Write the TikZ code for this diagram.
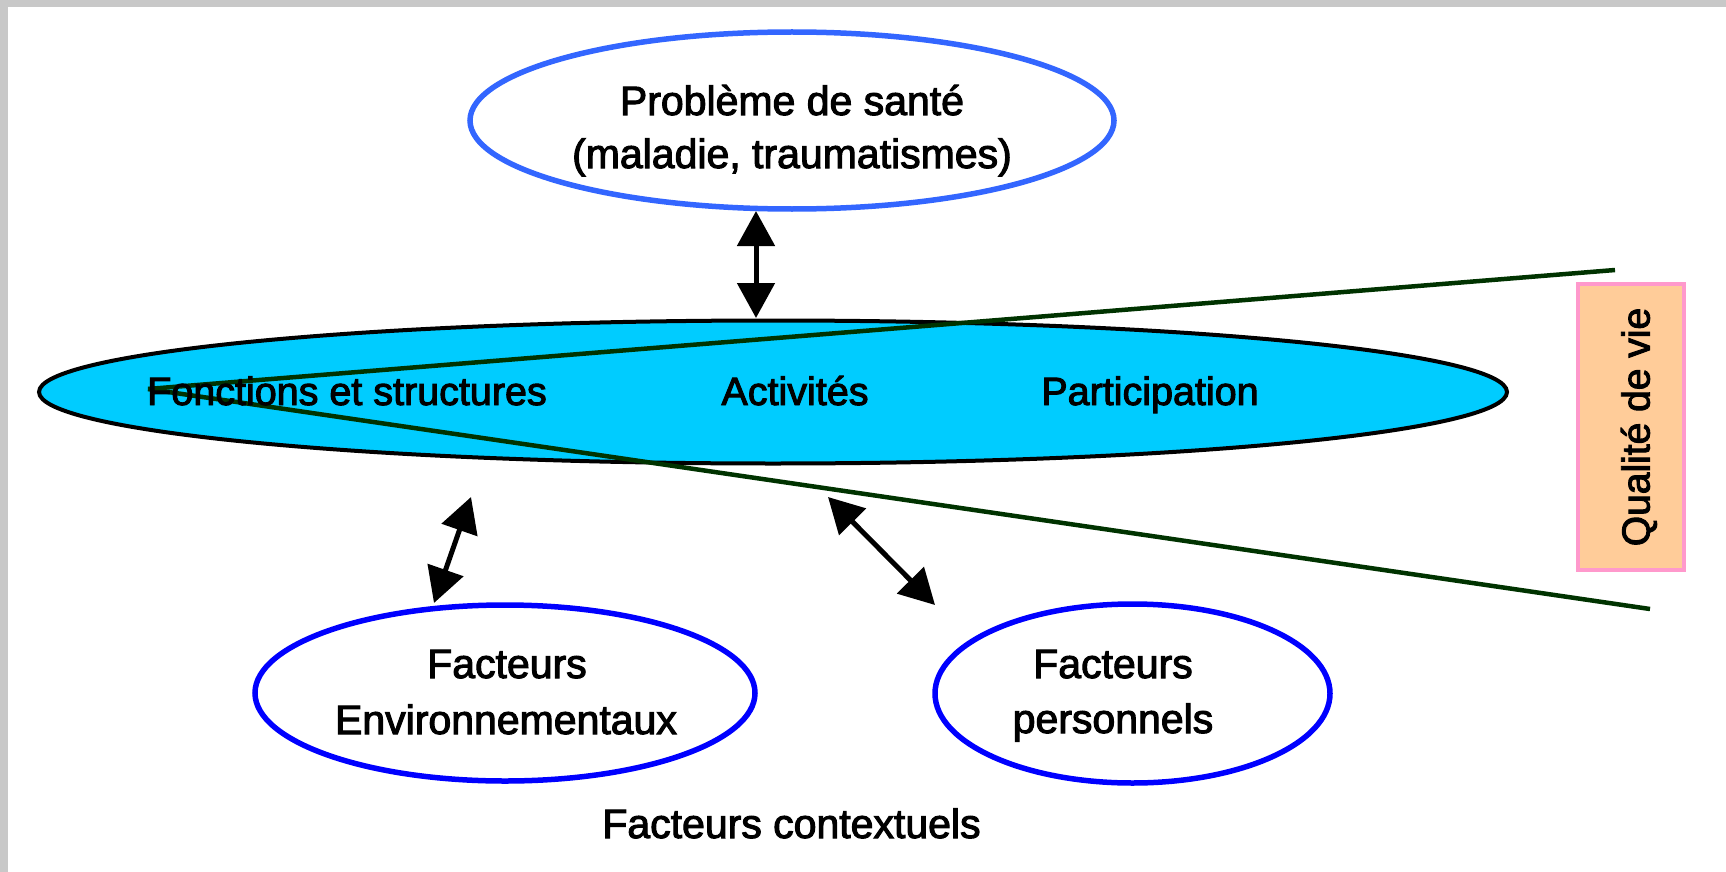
\documentclass[tikz,border=0pt]{standalone}
\usepackage{fontspec}
\setmainfont{Liberation Sans}
\newfontfamily\heavy{Liberation Sans}[FakeBold=2.5]
\usetikzlibrary{shapes.geometric,arrows.meta}
\definecolor{cyanfill}{RGB}{0,204,255}
\definecolor{topblue}{RGB}{51,102,255}
\definecolor{pureblue}{RGB}{0,0,255}
\definecolor{darkgreen}{RGB}{0,51,0}
\definecolor{peach}{RGB}{255,204,153}
\definecolor{pinkborder}{RGB}{255,153,204}
\definecolor{marble}{RGB}{200,200,200}
\begin{document}
\begin{tikzpicture}[x=1pt,y=-1pt,
  ell/.style={ellipse, inner sep=0pt, outer sep=0pt},
  lbl/.style={anchor=base, inner sep=0pt, font=\heavy\fontsize{41}{49}\selectfont},
  mlbl/.style={anchor=base, inner sep=0pt, font=\heavy\fontsize{39.5}{47}\selectfont},
  dbl/.style={{Triangle[length=35pt,width=37pt]}-{Triangle[length=35pt,width=37pt]}, line width=5pt, black},
  axisline/.style={draw=darkgreen, line width=4.5pt}
]
\useasboundingbox (0,0) rectangle (1726,872);
\fill[marble] (0,0) rectangle (1726,872);
\fill[white] (8,7) rectangle (1726,872);

% ellipses
\node[ell, draw=topblue, line width=5.5pt, minimum width=644pt, minimum height=177pt] (sante) at (792,120.5) {};
\node[ell, draw=black, fill=cyanfill, line width=4pt, minimum width=1468pt, minimum height=143pt] (main) at (773,392) {};
\node[ell, draw=pureblue, line width=5.5pt, minimum width=500pt, minimum height=176pt] (env) at (505,693) {};
\node[ell, draw=pureblue, line width=5.5pt, minimum width=395pt, minimum height=179pt] (pers) at (1132.5,693.5) {};

% quality of life box
\node[draw=pinkborder, fill=peach, line width=3.5pt, minimum width=106pt, minimum height=286pt, inner sep=0pt] (qdv) at (1631,427) {};
\node[rotate=90, anchor=base, inner sep=0pt, font=\heavy\fontsize{39}{47}\selectfont] (qdvtext) at (1649.5,427) {Qualité de vie};

% wedge lines
\coordinate (apex) at (148,389);
\coordinate (wup) at (1615,270);
\coordinate (wlo) at (1650,609);
\draw[axisline] (apex) -- (wup);
\draw[axisline] (apex) -- (wlo);

% arrows
\coordinate (a1top) at (756,211);
\coordinate (a1bot) at (756,318);
\coordinate (a2top) at (471,497);
\coordinate (a2bot) at (434,603);
\coordinate (a3top) at (828,497);
\coordinate (a3bot) at (935,605);
\draw[dbl] (a1top) -- (a1bot);
\draw[dbl] (a2top) -- (a2bot);
\draw[dbl] (a3top) -- (a3bot);

% texts
\node[lbl] (s1) at (792,115) {Problème de santé};
\node[lbl] (s2) at (792,168) {(maladie, traumatismes)};
\node[mlbl] (fs) at (347,405) {Fonctions et structures};
\node[mlbl] (act) at (795,405) {Activités};
\node[mlbl] (par) at (1150,405) {Participation};
\node[lbl] (e1) at (507,678) {Facteurs};
\node[lbl] (e2) at (506,734) {Environnementaux};
\node[lbl] (p1) at (1113,678) {Facteurs};
\node[lbl] (p2) at (1113,733) {personnels};
\node[lbl] (ctx) at (791.5,838) {Facteurs contextuels};
\end{tikzpicture}
\end{document}
